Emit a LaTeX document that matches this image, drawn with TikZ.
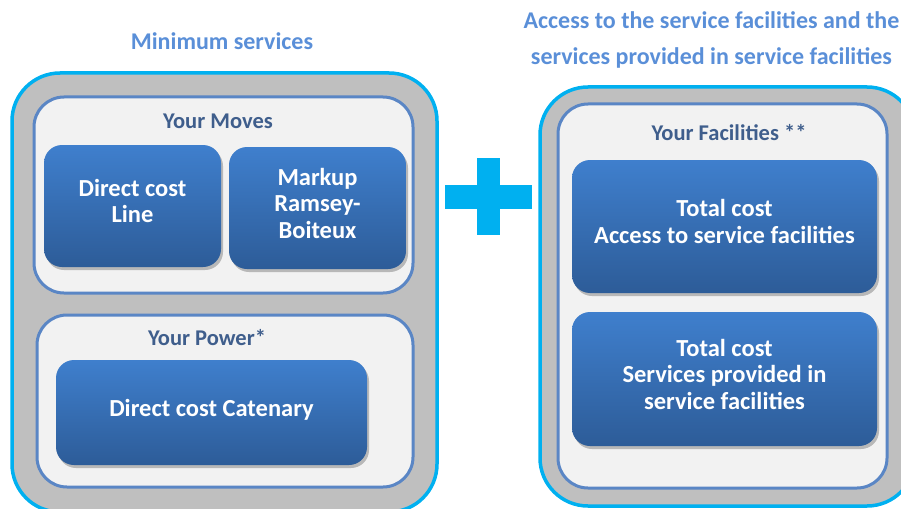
\documentclass[tikz,border=0pt]{standalone}
\usepackage{fontspec}
\setmainfont{Carlito}
\usetikzlibrary{shapes,shadows,positioning}

\definecolor{frameblue}{HTML}{00B0F0}
\definecolor{framegray}{HTML}{BFBFBF}
\definecolor{groupedge}{HTML}{5A86C5}
\definecolor{groupfill}{HTML}{F2F2F2}
\definecolor{blocktop}{HTML}{3F7FCD}
\definecolor{blockbot}{HTML}{2D5C98}
\definecolor{labelblue}{HTML}{3F5E8C}
\definecolor{headblue}{HTML}{5A8FD8}

\begin{document}
\begin{tikzpicture}[x=1pt,y=-1pt,
    outer/.style={rectangle, draw=frameblue, line width=3.5pt, fill=framegray, rounded corners=48pt, inner sep=0pt},
    group/.style={rectangle, draw=groupedge, line width=3pt, fill=groupfill, rounded corners=30pt, inner sep=0pt},
    block/.style={rectangle, rounded corners=18pt, top color=blocktop, bottom color=blockbot, inner sep=0pt,
        text=white, align=center, font=\bfseries\fontsize{24.5}{26.5}\selectfont, text depth=10pt,
        drop shadow={shadow xshift=2pt, shadow yshift=-3pt, opacity=0.35, fill=black!70}},
    grouplabel/.style={text=labelblue, font=\bfseries\fontsize{22.5}{26}\selectfont},
    headline/.style={text=headblue, align=center, font=\bfseries\fontsize{24}{36}\selectfont}]

\useasboundingbox (0,0) rectangle (901,508);
\clip (0,0) rectangle (901,508);

% Frames
\node[outer, minimum width=425pt, minimum height=439pt] (minframe) at (224.5,292.5) {};
\node[outer, minimum width=375pt, minimum height=419pt] (facframe) at (727.5,296.5) {};

% Groups
\node[group, minimum width=379pt, minimum height=196pt] (moves) at (223.5,195) {};
\node[group, minimum width=376pt, minimum height=172pt] (power) at (225,401) {};
\node[group, minimum width=329pt, minimum height=384pt] (facilities) at (722.5,296) {};

% Blocks
\node[block, minimum width=177pt, minimum height=122pt] (line) at (132.5,206) {Direct cost\\Line};
\node[block, minimum width=177pt, minimum height=122pt] (markup) at (317.5,208) {Markup\\Ramsey-\\Boiteux};
\node[block, minimum width=311pt, minimum height=105pt] (catenary) at (211.5,412.5) {Direct cost Catenary};
\node[block, minimum width=305pt, minimum height=133pt] (access) at (724.5,226.5) {Total cost\\Access to service facilities};
\node[block, minimum width=305pt, minimum height=134pt] (provided) at (724.5,379) {Total cost\\Services provided in\\service facilities};

% Labels
\node[grouplabel] (moveslabel) at (218,121) {Your Moves};
\node[grouplabel] (powerlabel) at (207,338) {Your Power*};
\node[grouplabel] (faclabel) at (729,133) {Your Facilities **};
\node[headline] (minhead) at (222,41) {Minimum services};
\node[headline] (fachead) at (711.5,40) {Access to the service facilities and the\\services provided in service facilities};

% Plus
\fill[frameblue] (477,158) rectangle (500,235);
\fill[frameblue] (445,185) rectangle (532,209);
\end{tikzpicture}
\end{document}
